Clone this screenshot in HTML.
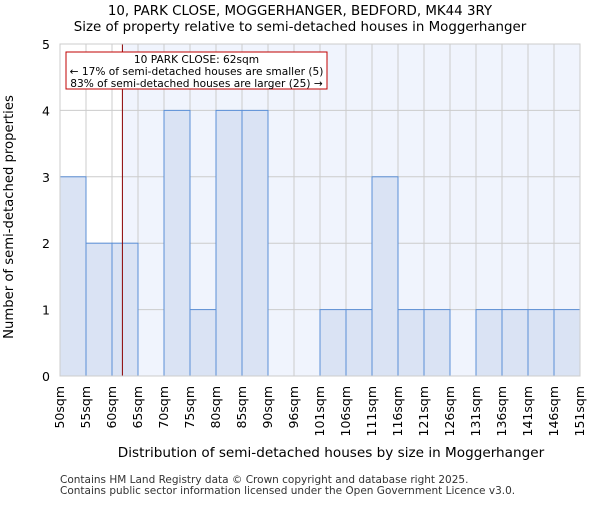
<!DOCTYPE html>
<html><head><meta charset="utf-8"><style>body{margin:0;background:#fff}svg{font-family:"DejaVu Sans","Liberation Sans",sans-serif}</style></head>
<body>
<svg id="c" width="600" height="500" xmlns="http://www.w3.org/2000/svg">
<text x="300" y="15" text-anchor="middle" font-size="13.4">10, PARK CLOSE, MOGGERHANGER, BEDFORD, MK44 3RY</text>
<text x="300" y="31" text-anchor="middle" font-size="13.4">Size of property relative to semi-detached houses in Moggerhanger</text>
<g id="plot"></g>
<text x="331" y="457" text-anchor="middle" font-size="13.6">Distribution of semi-detached houses by size in Moggerhanger</text>
<text x="13" y="217" text-anchor="middle" font-size="13.2" transform="rotate(-90 13 217)">Number of semi-detached properties</text>
<text x="60" y="483" font-size="10.5" fill="#333">Contains HM Land Registry data © Crown copyright and database right 2025.</text>
<text x="60" y="494" font-size="10.5" fill="#333">Contains public sector information licensed under the Open Government Licence v3.0.</text>
</svg>
<script>
const binLabels=["50sqm","55sqm","60sqm","65sqm","70sqm","75sqm","80sqm","85sqm","90sqm","96sqm","101sqm","106sqm","111sqm","116sqm","121sqm","126sqm","131sqm","136sqm","141sqm","146sqm","151sqm"];
const counts=[3,2,2,0,4,1,4,4,0,0,1,1,3,1,1,0,1,1,1,1];
const yTicks=[0,1,2,3,4,5];
const propertyBinPos=2.4;
const NS="http://www.w3.org/2000/svg";
const g=document.getElementById('plot');
const L=60,R=580,T=44,B=376,yMax=5;
const n=counts.length,bw=(R-L)/n;
const xs=i=>L+i*bw;
const ys=v=>B-v/yMax*(B-T);
function mk(t,a){const e=document.createElementNS(NS,t);for(const k in a)e.setAttribute(k,a[k]);g.appendChild(e);return e;}
const px=xs(propertyBinPos);
let e;
e=mk('rect',{x:px,y:T,width:R-px,height:B-T,fill:'#f0f4fd'});


for(const v of yTicks){e=mk('line',{x1:L,x2:R,y1:ys(v),y2:ys(v),stroke:'#ccc','stroke-width':1});


e=mk('text',{x:L-10,y:ys(v)+5,'text-anchor':'end','font-size':12.5});e.textContent=v;

}
for(let i=0;i<=n;i++){e=mk('line',{x1:xs(i),x2:xs(i),y1:T,y2:B,stroke:'#ccc','stroke-width':1});


const tx=xs(i)+4;e=mk('text',{x:tx,y:B+10,'text-anchor':'end','font-size':12.5,transform:`rotate(-90 ${tx} ${B+10})`});e.textContent=binLabels[i];

}
counts.forEach((c,i)=>{if(!c)return;e=mk('rect',{x:xs(i),y:ys(c),width:bw,height:B-ys(c),fill:'#dae3f4',stroke:'#5b8fd6','stroke-width':1});

});
e=mk('line',{x1:px,x2:px,y1:T,y2:B,stroke:'#8b0000','stroke-width':1});


e=mk('rect',{x:66,y:52,width:261,height:37,fill:'#fff',stroke:'#c00000','stroke-width':1});


const lines=["10 PARK CLOSE: 62sqm","← 17% of semi-detached houses are smaller (5)","83% of semi-detached houses are larger (25) →"];
lines.forEach((t,i)=>{e=mk('text',{x:196.5,y:63+i*12,'text-anchor':'middle','font-size':10.6});e.textContent=t;

});
e=mk('rect',{x:L,y:T,width:R-L,height:B-T,fill:'none',stroke:'#ccc'});


</script>
</body></html>
